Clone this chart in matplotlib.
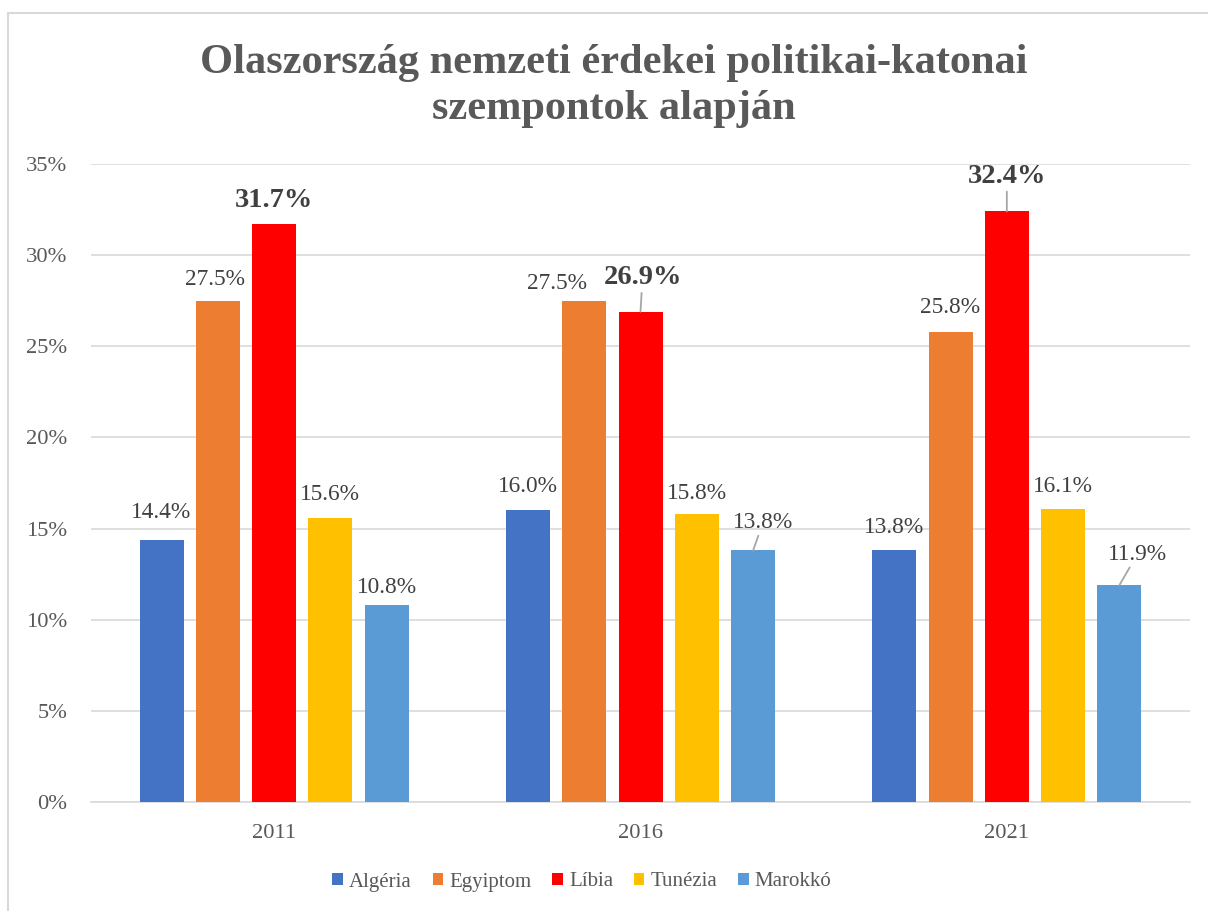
import matplotlib
matplotlib.use("Agg")
import matplotlib.pyplot as plt
from matplotlib.patches import Rectangle
import numpy as np

plt.rcParams['font.family'] = ['Liberation Serif', 'DejaVu Serif']

years = ['2011', '2016', '2021']
countries = ['Algéria', 'Egyiptom', 'Líbia', 'Tunézia', 'Marokkó']
colors = ['#4472C4', '#ED7D31', '#FF0000', '#FFC000', '#5B9BD5']
algeria = [14.4, 16.0, 13.8]
egyiptom = [27.5, 27.5, 25.8]
libia = [31.7, 26.9, 32.4]
tunezia = [15.6, 15.8, 16.1]
marokko = [10.8, 13.8, 11.9]
series = [algeria, egyiptom, libia, tunezia, marokko]
yticks = [0, 5, 10, 15, 20, 25, 30, 35]
title = 'Olaszország nemzeti érdekei politikai-katonai\nszempontok alapján'

# label offsets in pixels (dx, dy above bar top) and leader-line flags: [series][year]
label_off = [
    [(0, 27), (0, 24), (0, 23)],
    [(-3, 21), (-27, 17), (0, 24)],
    [(0, 24), (2, 34), (0, 35)],
    [(0, 23), (0, 20), (0, 22)],
    [(0, 18), (10, 28), (18, 31)],
]
leader = [
    [False, False, False],
    [False, False, False],
    [False, True, True],
    [False, False, False],
    [False, True, True],
]

W, H = 1208, 911
fig = plt.figure(figsize=(W / 100, H / 100), dpi=100)
fig.patches.append(Rectangle((8 / W, -0.1), 1.2, 1 - 13 / H + 0.1, transform=fig.transFigure,
                             fill=False, edgecolor='#D9D9D9', linewidth=1.5))
ax = fig.add_axes([91 / W, 1 - 802 / H, (1190 - 91) / W, (802 - 164) / H])

x = np.arange(len(years))
pitch = 56.3 / (1099 / 3)
bw = 44 / (1099 / 3)
for i, (name, vals, c) in enumerate(zip(countries, series, colors)):
    pos = x + (i - 2) * pitch
    ax.bar(pos, vals, width=bw, color=c, label=name, zorder=3)
    for j, (p, v) in enumerate(zip(pos, vals)):
        dx, dy = label_off[i][j]
        bold = (name == 'Líbia')
        txt = f'{v:.1f}%'
        kw = dict(xy=(p, v), xytext=(dx * 0.72, dy * 0.72), textcoords='offset points',
                  ha='center', va='center', fontsize=20.5 if bold else 16.8,
                  fontweight='bold' if bold else 'normal', color='#404040')
        if leader[i][j]:
            kw['arrowprops'] = dict(arrowstyle='-', color='#A6A6A6', lw=1.3,
                                    shrinkA=0, shrinkB=0)
        ax.annotate(txt, **kw)

ax.set_xlim(-0.5, len(years) - 0.5)
ax.set_ylim(0, 35)
ax.set_yticks(yticks)
ax.set_yticklabels([f'{t}%' for t in yticks])
ax.set_xticks(x)
ax.set_xticklabels(years)
ax.tick_params(axis='both', length=0, labelsize=16.2, labelcolor='#595959')
ax.tick_params(axis='y', pad=17)
ax.tick_params(axis='x', pad=16)
ax.grid(axis='y', color='#D9D9D9', linewidth=1.2, zorder=0)
for s in ['top', 'right', 'left']:
    ax.spines[s].set_visible(False)
ax.spines['bottom'].set_color('#D9D9D9')
ax.spines['bottom'].set_linewidth(1.2)

fig.text(614 / W, 1 - 86 / H, title, ha='center', va='center', fontsize=30.5,
         fontweight='bold', color='#595959', linespacing=1.25)

leg = fig.legend(loc='center', bbox_to_anchor=(582 / W, 1 - 882 / H), ncol=5, frameon=False,
                 fontsize=15, handlelength=0.5, handleheight=0.5, handletextpad=0.3,
                 columnspacing=1.0)
for t in leg.get_texts():
    t.set_color('#595959')

fig.savefig('out.png', dpi=100)
